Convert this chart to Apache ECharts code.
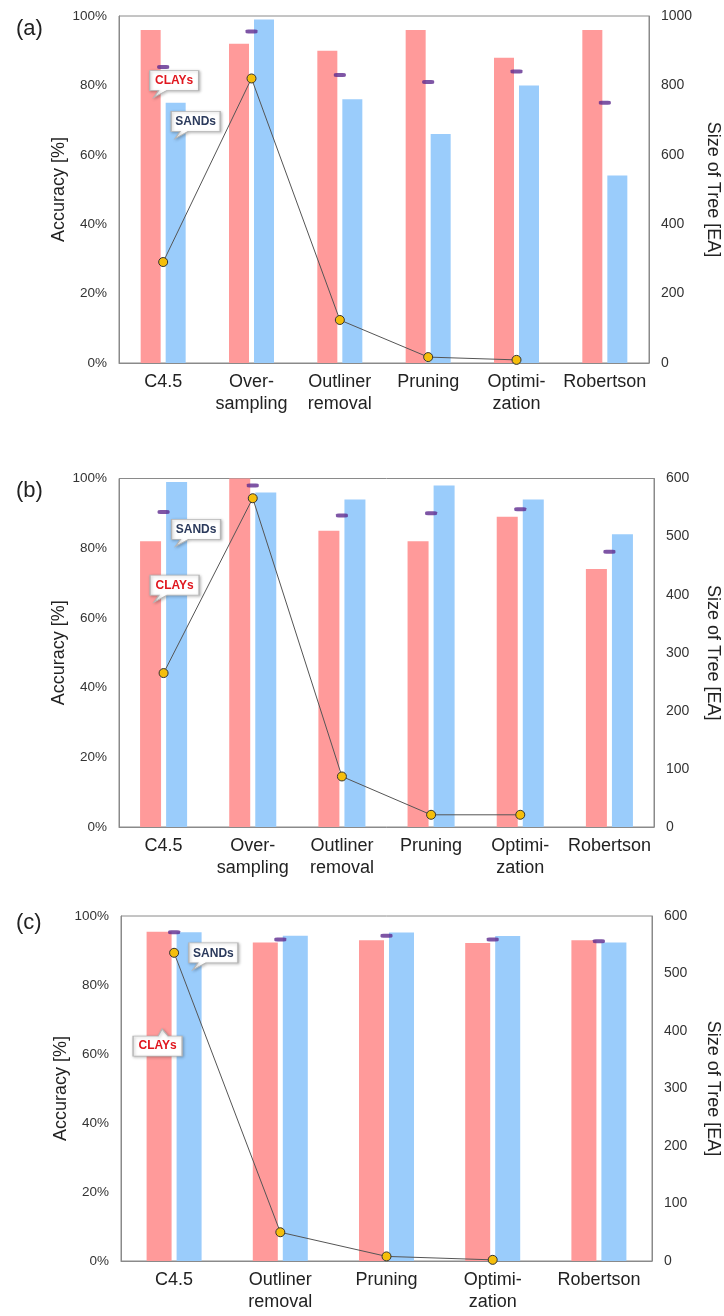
<!DOCTYPE html>
<html>
<head>
<meta charset="utf-8">
<script src="https://cdn.jsdelivr.net/npm/echarts@6/dist/echarts.min.js"></script>
<style>
html,body{margin:0;padding:0;background:#fff;}
#chart{width:724px;height:1316px;}
</style>
</head>
<body>
<div id="chart"></div>
<script>
// ---- data ----
const categoriesAB = ['C4.5', 'Over-\nsampling', 'Outliner\nremoval', 'Pruning', 'Optimi-\nzation', 'Robertson'];
const categoriesC = ['C4.5', 'Outliner\nremoval', 'Pruning', 'Optimi-\nzation', 'Robertson'];

const claysA = [96, 92, 90, 96, 88, 96];
const sandsA = [75, 99, 76, 66, 80, 54];
const overallA = [85.3, 95.5, 83, 81, 84, 75];
const treeA = [291, 820, 124, 17, 9, null];

const claysB = [82, 100, 85, 82, 89, 74];
const sandsB = [99, 96, 94, 98, 94, 84];
const overallB = [90.4, 98, 89.4, 90, 91.2, 79];
const treeB = [265, 566, 87, 21, 21, null];

const claysC = [95.4, 92.3, 93, 92.2, 93];
const sandsC = [95.3, 94.3, 95.2, 94.2, 92.3];
const overallC = [95.3, 93.2, 94.3, 93.2, 92.7];
const treeC = [536, 50, 8, 2, null];

const panelLabels = ['(a)', '(b)', '(c)'];

// ---- styles ----
const RED = '#FF9A9A', BLUE = '#9ACCFB', PURPLE = '#5E2A8E';
const FONT = 'Liberation Sans, Arial, sans-serif';

const calloutDown = 'path://M0,0H49V20H17L4,27L9,20H0Z';
const calloutUp = 'path://M0,7H25L29,0L35,7H49V27H0Z';

function callout(text, color, coord, offset, up) {
  return {
    coord: coord,
    symbol: up ? calloutUp : calloutDown,
    symbolSize: [49, 27],
    symbolKeepAspect: false,
    symbolOffset: offset,
    itemStyle: {color: '#fff', borderColor: '#b5b5b5', borderWidth: 1,
      shadowBlur: 3, shadowColor: 'rgba(0,0,0,0.25)', shadowOffsetX: 1, shadowOffsetY: 1},
    label: {show: true, formatter: text, position: 'inside', offset: [0, up ? 3 : -3],
      color: color, fontWeight: 'bold', fontSize: 12, fontFamily: FONT}
  };
}

const grids = [
  {left: 119, top: 16, width: 530, height: 347},
  {left: 119, top: 478.5, width: 535, height: 348.5},
  {left: 121, top: 916, width: 531, height: 345}
];

const xAxes = [], yAxes = [], series = [], titles = [];
const panels = [
  {cats: categoriesAB, clays: claysA, sands: sandsA, overall: overallA, tree: treeA, treeMax: 1000, treeInt: 200, bw: 20, gap: '25%', rGap: 55,
   callouts: [callout('CLAYs', '#E0161E', [0, 80.4], [11, 0]), callout('SANDs', '#2B3A5C', [0, 68.6], [32.5, 0])]},
  {cats: categoriesAB, clays: claysB, sands: sandsB, overall: overallB, tree: treeB, treeMax: 600, treeInt: 100, bw: 21, gap: '24%', rGap: 50,
   callouts: [callout('SANDs', '#2B3A5C', [0, 84.4], [32.5, 0]), callout('CLAYs', '#E0161E', [0, 68.4], [11, 0])]},
  {cats: categoriesC, clays: claysC, sands: sandsC, overall: overallC, tree: treeC, treeMax: 600, treeInt: 100, bw: 25, gap: '20%', rGap: 52,
   callouts: [callout('SANDs', '#2B3A5C', [0, 88.3], [39.3, 0]), callout('CLAYs', '#E0161E', [0, 63.3], [-16.5, 0], true)]}
];
const titleTops = [13, 475, 907];

panels.forEach((p, i) => {
  Object.assign(grids[i], {show: true, borderColor: '#8a8a8a', borderWidth: 1, containLabel: false, outerBoundsMode: 'none'});
  titles.push({text: panelLabels[i], left: 11, top: titleTops[i],
    textStyle: {fontSize: 22, fontWeight: 'normal', color: '#222', fontFamily: FONT}});
  xAxes.push({type: 'category', gridIndex: i, data: p.cats,
    axisLine: {lineStyle: {color: '#8a8a8a'}}, axisTick: {show: false},
    axisLabel: {fontSize: 18, lineHeight: 22, color: '#222', margin: 8, fontFamily: FONT, interval: 0}});
  yAxes.push({type: 'value', gridIndex: i, min: 0, max: 100, interval: 20, position: 'left',
    name: 'Accuracy [%]', nameLocation: 'middle', nameGap: 51, nameMoveOverlap: false,
    nameTextStyle: {fontSize: 18, color: '#222', fontFamily: FONT},
    axisLine: {show: true, lineStyle: {color: '#8a8a8a'}}, axisTick: {show: false}, splitLine: {show: false},
    axisLabel: {formatter: '{value}%', fontSize: 13.5, color: '#333', margin: 12, fontFamily: FONT}});
  yAxes.push({type: 'value', gridIndex: i, min: 0, max: p.treeMax, interval: p.treeInt, position: 'right',
    name: 'Size of Tree [EA]', nameLocation: 'middle', nameGap: p.rGap, nameRotate: -90, nameMoveOverlap: false,
    nameTextStyle: {fontSize: 18, color: '#222', fontFamily: FONT},
    axisLine: {show: true, lineStyle: {color: '#8a8a8a'}}, axisTick: {show: false}, splitLine: {show: false},
    axisLabel: {formatter: v => String(v), fontSize: 14, color: '#333', margin: 12, fontFamily: FONT}});
  const yl = i * 2, yr = i * 2 + 1;
  series.push({type: 'bar', name: 'CLAYs', xAxisIndex: i, yAxisIndex: yl, data: p.clays,
    barWidth: p.bw, barGap: p.gap, itemStyle: {color: RED}, z: 2});
  series.push({type: 'bar', name: 'SANDs', xAxisIndex: i, yAxisIndex: yl, data: p.sands,
    barWidth: p.bw, barGap: p.gap, itemStyle: {color: BLUE}, z: 2});
  series.push({type: 'scatter', name: 'Overall', xAxisIndex: i, yAxisIndex: yl, data: p.overall,
    symbol: 'roundRect', symbolSize: [12, 4], itemStyle: {color: PURPLE}, z: 4,
    markPoint: {data: p.callouts, z: 6, animation: false}});
  series.push({type: 'line', name: 'Size of Tree', xAxisIndex: i, yAxisIndex: yr, data: p.tree,
    connectNulls: false, symbol: 'circle', symbolSize: 9, showSymbol: true,
    lineStyle: {color: '#555', width: 1},
    itemStyle: {color: '#F5BE0B', borderColor: '#333', borderWidth: 1}, z: 5});
});

const chart = echarts.init(document.getElementById('chart'), null, {renderer: 'canvas'});
chart.setOption({
  animation: false,
  backgroundColor: '#fff',
  title: titles,
  grid: grids,
  xAxis: xAxes,
  yAxis: yAxes,
  series: series
});
</script>
</body>
</html>
